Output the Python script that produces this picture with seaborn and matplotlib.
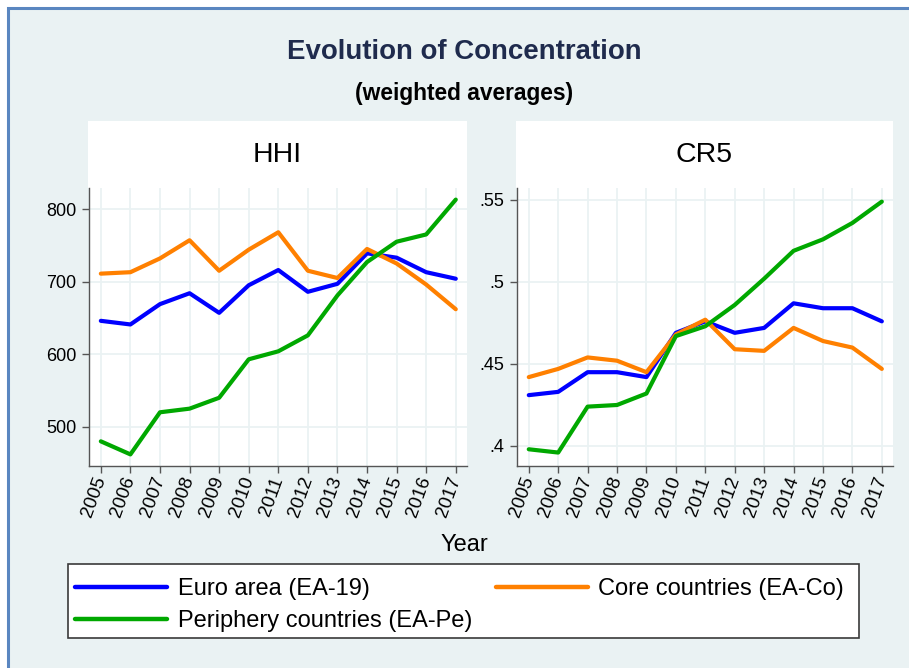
import numpy as np
import pandas as pd
import matplotlib
matplotlib.use("Agg")
import matplotlib.pyplot as plt
from matplotlib.patches import Rectangle
import seaborn as sns

sns.set_style("white")
plt.rcParams['font.family'] = ['Liberation Sans', 'DejaVu Sans']

years = list(range(2005, 2018))
groups = ["Euro area (EA-19)", "Core countries (EA-Co)", "Periphery countries (EA-Pe)"]

hhi_euro = [646, 641, 669, 684, 657, 695, 716, 686, 697, 739, 733, 713, 704]
hhi_core = [711, 713, 732, 757, 715, 744, 768, 715, 705, 745, 725, 696, 662]
hhi_peri = [480, 462, 520, 525, 540, 593, 604, 626, 681, 727, 755, 765, 813]

cr5_euro = [0.431, 0.433, 0.445, 0.445, 0.442, 0.469, 0.476, 0.469, 0.472, 0.487, 0.484, 0.484, 0.476]
cr5_core = [0.442, 0.447, 0.454, 0.452, 0.445, 0.468, 0.477, 0.459, 0.458, 0.472, 0.464, 0.460, 0.447]
cr5_peri = [0.398, 0.396, 0.424, 0.425, 0.432, 0.467, 0.473, 0.486, 0.502, 0.519, 0.526, 0.536, 0.549]

hhi_ticks = [500, 600, 700, 800]
hhi_ticklabels = ["500", "600", "700", "800"]
cr5_ticks = [0.40, 0.45, 0.50, 0.55]
cr5_ticklabels = [".4", ".45", ".5", ".55"]

colors = {groups[0]: "#0000ff", groups[1]: "#ff8000", groups[2]: "#00a800"}

def long_df(a, b, c, name):
    rows = []
    for g, vals in zip(groups, [a, b, c]):
        for y, v in zip(years, vals):
            rows.append({"Year": y, name: v, "Group": g})
    return pd.DataFrame(rows)

df_hhi = long_df(hhi_euro, hhi_core, hhi_peri, "HHI")
df_cr5 = long_df(cr5_euro, cr5_core, cr5_peri, "CR5")

W, H = 909, 668
fig = plt.figure(figsize=(W / 100, H / 100), dpi=100, facecolor="white")

def fx(px):
    return px / W

def fy(py):
    return 1 - py / H

bgc = "#eaf2f3"
# outer graph region with blue frame
fig.patches.append(Rectangle((fx(8), -0.2), 1.3, fy(8) + 0.2, transform=fig.transFigure,
                             facecolor=bgc, edgecolor="#5a86c0", linewidth=2.2, zorder=-3))
# white title strips for the panels
for x0, x1 in [(88, 467), (516, 893)]:
    fig.patches.append(Rectangle((fx(x0), fy(188)), fx(x1) - fx(x0), fy(121) - fy(188),
                                 transform=fig.transFigure, facecolor="white",
                                 edgecolor="none", zorder=-2))
# legend box
fig.patches.append(Rectangle((fx(68), fy(638)), fx(859) - fx(68), fy(564) - fy(638),
                             transform=fig.transFigure, facecolor="white",
                             edgecolor="#3a3a3a", linewidth=1.2, zorder=-1))

ax1 = fig.add_axes([fx(89), fy(466), fx(467) - fx(89), fy(188) - fy(466)])
ax2 = fig.add_axes([fx(517), fy(466), fx(893) - fx(517), fy(188) - fy(466)])

sns.lineplot(data=df_hhi, x="Year", y="HHI", hue="Group", palette=colors,
             hue_order=groups, linewidth=3, ax=ax1)
sns.lineplot(data=df_cr5, x="Year", y="CR5", hue="Group", palette=colors,
             hue_order=groups, linewidth=3, ax=ax2, legend=False)

handles, labels = ax1.get_legend_handles_labels()
ax1.get_legend().remove()
order = [0, 2, 1]
handles = [handles[i] for i in order]
labels = [labels[i] for i in order]

for ax, ylim, ticks, tlabels in [
    (ax1, (446, 829), hhi_ticks, hhi_ticklabels),
    (ax2, (0.3878, 0.5573), cr5_ticks, cr5_ticklabels),
]:
    ax.set_facecolor("white")
    ax.set_xlim(2004.6, 2017.38)
    ax.set_ylim(*ylim)
    ax.set_xticks(years)
    ax.set_xticklabels([str(y) for y in years], rotation=70, ha="right", va="center",
                       rotation_mode="anchor")
    ax.set_yticks(ticks)
    ax.set_yticklabels(tlabels)
    ax.grid(True, color=bgc, linewidth=1.3)
    ax.set_axisbelow(True)
    for s in ["top", "right"]:
        ax.spines[s].set_visible(False)
    for s in ["left", "bottom"]:
        ax.spines[s].set_color("#555555")
        ax.spines[s].set_linewidth(1.0)
    ax.tick_params(axis="both", which="major", length=5, width=1.0, color="#555555",
                   labelcolor="black", direction="out", left=True, bottom=True)
    ax.tick_params(axis="x", pad=3, labelsize=13.5)
    ax.tick_params(axis="y", pad=4, labelsize=13)
    ax.set_xlabel("")
    ax.set_ylabel("")

fig.text(fx(464), fy(59), "Evolution of Concentration", ha="center", va="baseline",
         fontsize=19.9, fontweight="bold", color="#1f2b4d")
fig.text(fx(464), fy(100), "(weighted averages)", ha="center", va="baseline",
         fontsize=16.4, fontweight="bold", color="black")
fig.text(fx(277.5), fy(162), "HHI", ha="center", va="baseline", fontsize=20.5, color="black")
fig.text(fx(704.5), fy(162), "CR5", ha="center", va="baseline", fontsize=20.5, color="black")
fig.text(fx(464), fy(551), "Year", ha="center", va="baseline", fontsize=17, color="black")

leg = fig.legend(handles, labels, ncol=2, loc="lower left",
                 bbox_to_anchor=(fx(63), fy(644), fx(856) - fx(63), 0.05),
                 bbox_transform=fig.transFigure, mode="expand", frameon=False,
                 fontsize=17, handlelength=3.9, handletextpad=0.45,
                 borderpad=0.5, labelspacing=0.44, columnspacing=2.0, borderaxespad=0,
                 labelcolor="black")
for line in leg.get_lines():
    line.set_linewidth(3.2)

fig.savefig("out.png", dpi=100, facecolor="white")
